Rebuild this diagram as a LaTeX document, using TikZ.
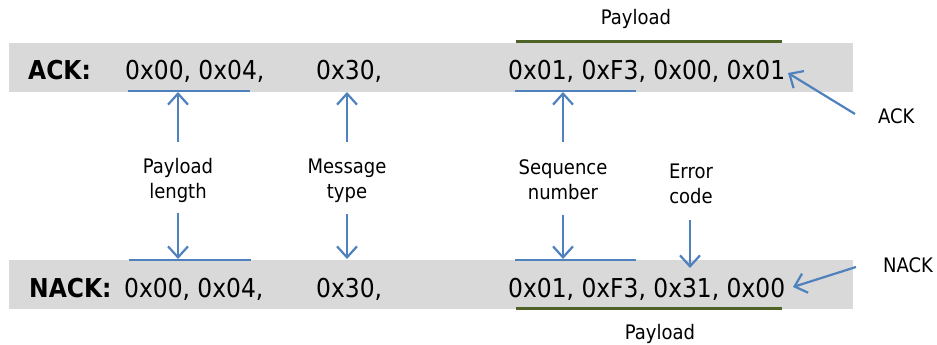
\documentclass[tikz,border=0pt]{standalone}
\usepackage{fontspec}
\setmainfont{DejaVu Sans Condensed}
\usetikzlibrary{arrows.meta}
\definecolor{band}{HTML}{D9D9D9}
\definecolor{lblue}{HTML}{4F81BD}
\definecolor{olive}{HTML}{4F6228}
\begin{document}
\begin{tikzpicture}[x=1pt,y=-1pt,
 hex/.style={font=\fontsize{26}{28}\selectfont, inner sep=0pt, anchor=base west},
 lbl/.style={font=\fontsize{20}{25}\selectfont, align=center, inner sep=0pt, anchor=base},
 side/.style={font=\fontsize{20}{25}\selectfont, inner sep=0pt, anchor=base west},
 bar/.style={fill=band, draw=none, inner sep=0pt, minimum width=844pt, minimum height=49pt, anchor=north west},
 uline/.style={draw=lblue, line width=2pt},
 pline/.style={draw=olive, line width=3pt},
 arr/.style={draw=lblue, line width=2.2pt, -{Straight Barb[length=11pt,width=20pt,line width=2.2pt]}},
]
\useasboundingbox (0,0) rectangle (937,345);
% bands
\node[bar] (ackbar) at (9,43) {};
\node[bar] (nackbar) at (9,260) {};
% ACK row
\node[hex] (ackname) at (28,80) {\textbf{ACK:}};
\node[hex] (acklen) at (125,80) {0x00, 0x04,};
\node[hex] (acktype) at (316,80) {0x30,};
\node[hex] (ackpay) at (508,80) {0x01, 0xF3, 0x00, 0x01};
% NACK row
\node[hex] (nackname) at (29,297) {\textbf{NACK:}};
\node[hex] (nacklen) at (124,297) {0x00, 0x04,};
\node[hex] (nacktype) at (316,297) {0x30,};
\node[hex] (nackpay) at (508,297) {0x01, 0xF3, 0x31, 0x00};
% payload bars
\coordinate (pa1) at (516,42); \coordinate (pa2) at (782,42);
\draw[pline] (pa1) -- (pa2);
\node[lbl] (paytop) at (636,25) {Payload};
\coordinate (pb1) at (516,308); \coordinate (pb2) at (782,308);
\draw[pline] (pb1) -- (pb2);
\node[lbl] (paybot) at (660,339) {Payload};
% underlines
\coordinate (u1a) at (128,91); \coordinate (u1b) at (250,91);
\coordinate (u2a) at (515,91); \coordinate (u2b) at (636,91);
\coordinate (d1a) at (129,260); \coordinate (d1b) at (251,260);
\coordinate (d2a) at (515,260); \coordinate (d2b) at (636,260);
\draw[uline] (u1a) -- (u1b);
\draw[uline] (u2a) -- (u2b);
\draw[uline] (d1a) -- (d1b);
\draw[uline] (d2a) -- (d2b);
% labels (base anchor = baseline of the last line)
\node[lbl] (plen) at (178,198) {Payload\\length};
\node[lbl] (mtype) at (347,198) {Message\\type};
\node[lbl] (seqn) at (563,199) {Sequence\\number};
\node[lbl] (errc) at (691,203) {Error\\code};
% arrow ends
\coordinate (plup) at (178,142); \coordinate (plupt) at (178,92);
\coordinate (plDn) at (178,213); \coordinate (plDnt) at (178,259);
\coordinate (mtup) at (347,142); \coordinate (mtupt) at (347,92);
\coordinate (mtDn) at (347,214); \coordinate (mtDnt) at (347,259);
\coordinate (squp) at (563,142); \coordinate (squpt) at (563,92);
\coordinate (sqDn) at (563,215); \coordinate (sqDnt) at (563,259);
\coordinate (erDn) at (690,220); \coordinate (erDnt) at (690,268);
\draw[arr] (plup) -- (plupt);
\draw[arr] (plDn) -- (plDnt);
\draw[arr] (mtup) -- (mtupt);
\draw[arr] (mtDn) -- (mtDnt);
\draw[arr] (squp) -- (squpt);
\draw[arr] (sqDn) -- (sqDnt);
\draw[arr] (erDn) -- (erDnt);
% side labels
\node[side] (acklbl) at (878,123) {ACK};
\node[side] (nacklbl) at (883,272) {NACK};
\coordinate (acktail) at (855,114); \coordinate (acktip) at (788,73);
\coordinate (nacktail) at (856,267); \coordinate (nacktip) at (793,287);
\draw[arr] (acktail) -- (acktip);
\draw[arr] (nacktail) -- (nacktip);
\end{tikzpicture}
\end{document}
